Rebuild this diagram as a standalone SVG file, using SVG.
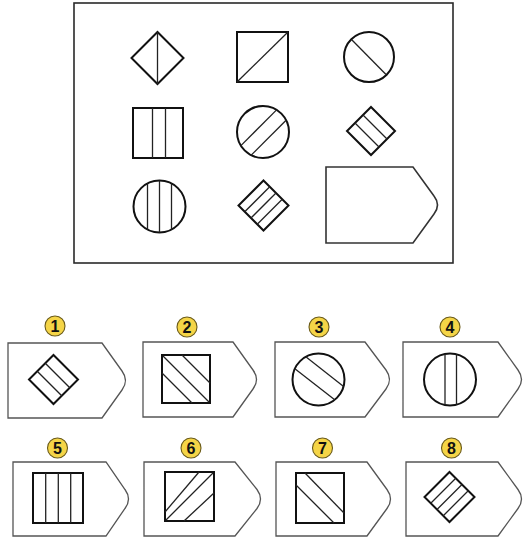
<svg xmlns="http://www.w3.org/2000/svg" width="526" height="542" viewBox="0 0 526 542">
<style>
.frame{fill:none;stroke:#2a2a2a;stroke-width:1.6}
.sh{fill:none;stroke:#111;stroke-width:2}
.ln{fill:none;stroke:#222;stroke-width:1.3}
.tag{fill:#fff;stroke:#555;stroke-width:1.3}
.badge{fill:#f5d547;stroke:#6a5a18;stroke-width:1.1}
.num{font-family:"Liberation Sans",Arial,sans-serif;font-size:16px;font-weight:bold;fill:#111;text-anchor:middle}
</style>
<rect width="526" height="542" fill="#fff"/>
<g id="matrix">
<rect class="frame" x="74" y="3" width="379" height="260"/>
<g id="m11"><path class="sh" d="M157.5,32 L183.5,58 L157.5,84 L131.5,58 Z"/><line class="ln" x1="157.5" y1="32" x2="157.5" y2="84"/></g>
<g id="m12"><rect class="sh" x="237" y="32" width="51" height="50"/><line class="ln" x1="237" y1="82" x2="288" y2="32"/></g>
<g id="m13"><circle class="sh" cx="369" cy="57" r="25"/><line class="ln" x1="351.5" y1="39.5" x2="386" y2="74.5"/></g>
<g id="m21"><rect class="sh" x="133" y="108" width="50" height="50"/><line class="ln" x1="152.5" y1="108" x2="152.5" y2="158"/><line class="ln" x1="165.5" y1="108" x2="165.5" y2="158"/></g>
<g id="m22"><circle class="sh" cx="263" cy="132" r="26"/><line class="ln" x1="240.9" y1="145.6" x2="276.6" y2="109.9"/><line class="ln" x1="251.2" y1="155.1" x2="286.1" y2="120.2"/></g>
<g id="m23"><path class="sh" d="M371,107 L395,131 L371,155 L347,131 Z"/><line class="ln" x1="355" y1="123" x2="379" y2="147"/><line class="ln" x1="363" y1="115" x2="387" y2="139"/></g>
<g id="m31"><circle class="sh" cx="159.5" cy="206.5" r="26"/><line class="ln" x1="147.5" y1="183.4" x2="147.5" y2="229.6"/><line class="ln" x1="159.5" y1="180.5" x2="159.5" y2="232.5"/><line class="ln" x1="171.5" y1="183.4" x2="171.5" y2="229.6"/></g>
<g id="m32"><path class="sh" d="M263.5,180.5 L288.5,205.5 L263.5,230.5 L238.5,205.5 Z"/><line class="ln" x1="244.75" y1="211.75" x2="269.75" y2="186.75"/><line class="ln" x1="251" y1="218" x2="276" y2="193"/><line class="ln" x1="257.25" y1="224.25" x2="282.25" y2="199.25"/></g>
<g id="m33"><path class="tag" style="stroke:#333;stroke-width:1.6" d="M326,167 H413 L434,196 Q441,205 434,214 L413,243 H326 Z"/></g>
</g>
<g id="opt1"><path class="tag" d="M8,343 H102 L122,371 Q129,380.5 122,390 L102,418 H8 Z"/><circle class="badge" cx="55" cy="326" r="10"/><text class="num" x="55" y="331.8">1</text><path class="sh" d="M53.5,355 L78,379.5 L53.5,404 L29,379.5 Z"/><line class="ln" x1="37.2" y1="371.3" x2="61.7" y2="395.8"/><line class="ln" x1="45.3" y1="363.2" x2="69.8" y2="387.7"/></g>
<g id="opt2"><path class="tag" d="M143,342 H233 L253,370 Q260,379.5 253,389 L233,417 H143 Z"/><circle class="badge" cx="187" cy="327" r="10"/><text class="num" x="187" y="332.8">2</text><rect class="sh" x="162" y="355" width="48" height="48"/><line class="ln" x1="162" y1="373" x2="192" y2="403"/><line class="ln" x1="163" y1="356" x2="209" y2="402"/><line class="ln" x1="182" y1="355" x2="210" y2="383"/></g>
<g id="opt3"><path class="tag" d="M275,342 H365 L386,370 Q393,379.5 386,389 L365,417 H275 Z"/><circle class="badge" cx="319" cy="327" r="10"/><text class="num" x="319" y="332.8">3</text><circle class="sh" cx="318.5" cy="379.5" r="26"/><line class="ln" x1="294.9" y1="368.7" x2="334.7" y2="399.8"/><line class="ln" x1="305.8" y1="356.8" x2="343.6" y2="386.4"/></g>
<g id="opt4"><path class="tag" d="M403,342 H498 L518,370 Q525,379.5 518,389 L498,417 H403 Z"/><circle class="badge" cx="450" cy="327" r="10"/><text class="num" x="450" y="332.8">4</text><circle class="sh" cx="450" cy="379.5" r="26"/><line class="ln" x1="445" y1="354" x2="445" y2="405"/><line class="ln" x1="456.5" y1="354.3" x2="456.5" y2="404.7"/></g>
<g id="opt5"><path class="tag" d="M13,462 H106 L125,489.5 Q132,499 125,508.5 L106,536 H13 Z"/><circle class="badge" cx="57.5" cy="448" r="10"/><text class="num" x="57.5" y="453.8">5</text><rect class="sh" x="33" y="473" width="50" height="50"/><line class="ln" x1="45.7" y1="473" x2="45.7" y2="523"/><line class="ln" x1="58.3" y1="473" x2="58.3" y2="523"/><line class="ln" x1="70.7" y1="473" x2="70.7" y2="523"/></g>
<g id="opt6"><path class="tag" d="M144,462 H235 L257,489.5 Q264,499 257,508.5 L235,536 H144 Z"/><circle class="badge" cx="191" cy="448" r="10"/><text class="num" x="191" y="453.8">6</text><rect class="sh" x="165" y="472" width="49" height="49"/><line class="ln" x1="165" y1="512" x2="199" y2="472"/><line class="ln" x1="166" y1="520" x2="213" y2="473"/><line class="ln" x1="184" y1="521" x2="214" y2="493"/></g>
<g id="opt7"><path class="tag" d="M276,462 H367 L387,489.5 Q394,499 387,508.5 L367,536 H276 Z"/><circle class="badge" cx="322.5" cy="448" r="10"/><text class="num" x="322.5" y="453.8">7</text><rect class="sh" x="296" y="473" width="48" height="50"/><line class="ln" x1="296" y1="485" x2="334" y2="523"/><line class="ln" x1="305" y1="473" x2="344" y2="513"/></g>
<g id="opt8"><path class="tag" d="M406,462 H498 L518,489.5 Q525,499 518,508.5 L498,536 H406 Z"/><circle class="badge" cx="451.5" cy="448" r="10"/><text class="num" x="451.5" y="453.8">8</text><path class="sh" d="M449.5,472 L474.5,497 L449.5,522 L424.5,497 Z"/><line class="ln" x1="430.75" y1="503.25" x2="455.75" y2="478.25"/><line class="ln" x1="437" y1="509.5" x2="462" y2="484.5"/><line class="ln" x1="443.25" y1="515.75" x2="468.25" y2="490.75"/></g>
</svg>
